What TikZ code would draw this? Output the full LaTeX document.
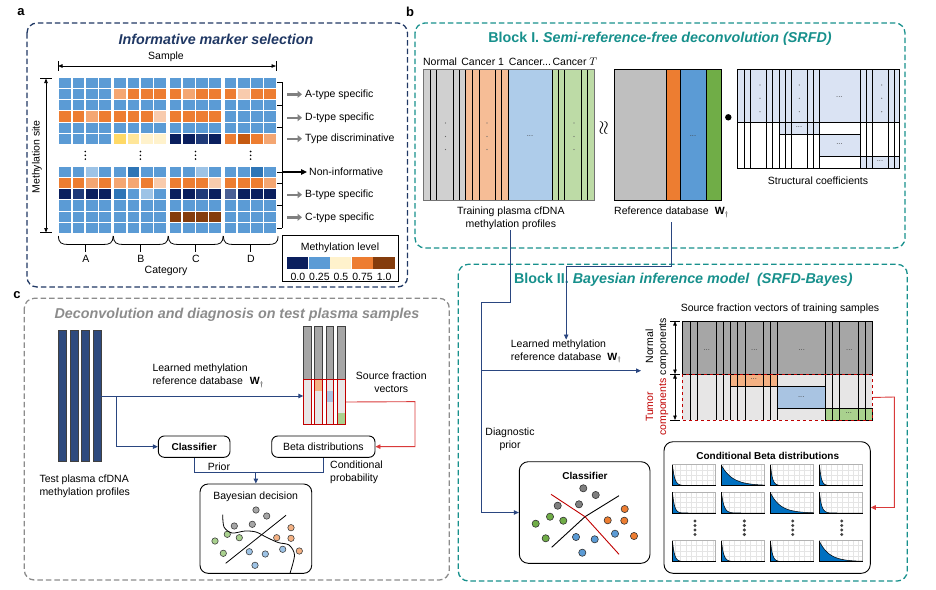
\documentclass[tikz,border=0pt]{standalone}
\usepackage{fontspec}
\setmainfont{Liberation Sans}
\usepackage{amsmath}
\usepackage{graphicx}
\usepackage{xcolor}
\usetikzlibrary{arrows.meta,positioning}

\definecolor{navyA}{HTML}{203864}
\definecolor{tealB}{HTML}{17908C}
\definecolor{grayC}{HTML}{8C8C8C}
\definecolor{linkc}{HTML}{2A4680}
\definecolor{redL}{HTML}{C00000}
\definecolor{redk}{HTML}{D93A3A}
\definecolor{hb}{HTML}{5B9BD5}
\definecolor{hl}{HTML}{9DC3E6}
\definecolor{hd}{HTML}{2E75B6}
\definecolor{hn}{HTML}{0A1F5E}
\definecolor{hm}{HTML}{1F3A78}
\definecolor{hs}{HTML}{4A5F94}
\definecolor{ho}{HTML}{ED7D31}
\definecolor{hp}{HTML}{F4A672}
\definecolor{hq}{HTML}{F8CBAD}
\definecolor{hy}{HTML}{FFD966}
\definecolor{hw}{HTML}{FFE699}
\definecolor{hc}{HTML}{FFF2CC}
\definecolor{hk}{HTML}{C55A11}
\definecolor{hr}{HTML}{843C0C}
\definecolor{trgray}{HTML}{D0D0D0}
\definecolor{trorange}{HTML}{F6BD96}
\definecolor{trblue}{HTML}{AECCEA}
\definecolor{trgreen}{HTML}{BDDBA6}
\definecolor{rfgray}{HTML}{BFBFBF}
\definecolor{rfgreen}{HTML}{70AD47}
\definecolor{scblue}{HTML}{DAE3F3}
\definecolor{sfdark}{HTML}{A6A6A6}
\definecolor{sflight}{HTML}{E7E6E6}
\definecolor{sforange}{HTML}{F4B183}
\definecolor{sfblue}{HTML}{A9C4E2}
\definecolor{sfgreen}{HTML}{A9D18E}
\definecolor{barnavy}{HTML}{2E4A7E}
\definecolor{betablue}{HTML}{0070C0}
\definecolor{dgray}{HTML}{7F7F7F}
\definecolor{dgreen}{HTML}{70AD47}
\definecolor{dblue}{HTML}{5B9BD5}
\definecolor{lgray}{HTML}{A6A6A6}
\definecolor{lgreen}{HTML}{A9D18E}
\definecolor{lorange}{HTML}{F4B183}
\definecolor{lblue}{HTML}{9DC3E6}

\tikzset{
	lbl/.style={font=\fontsize{10.5}{13}\selectfont, inner sep=0pt},
	ttl/.style={font=\fontsize{14.3}{17}\selectfont\bfseries\itshape, inner sep=0pt},
	plbl/.style={font=\fontsize{13}{13}\selectfont\bfseries, inner sep=0pt},
	panel/.style={dash pattern=on 5.5pt off 3pt, line width=1.3pt, rounded corners=10pt},
	rbox/.style={draw, rounded corners=6pt, line width=0.9pt, inner sep=0pt},
	dd/.style={font=\fontsize{7.5}{7.5}\selectfont, inner sep=0pt, text=black!75},
	garrow/.style={draw=black!50, line width=2.4pt, -{Triangle[length=4.5pt,width=7pt]}},
	linkar/.style={draw=linkc, line width=0.9pt, -{Triangle[length=5pt,width=4.5pt]}},
	redlink/.style={draw=redk, line width=0.9pt, -{Triangle[length=5pt,width=4.5pt]}},
	dblarrow/.style={line width=0.7pt, {Triangle[length=4.5pt,width=3.5pt]}-{Triangle[length=4.5pt,width=3.5pt]}},
}

\begin{document}
\begin{tikzpicture}[x=1pt,y=-1pt]
	\useasboundingbox (0,0) rectangle (936,589);

	\node[plbl] (pa) at (21,12) {a};
	\draw[panel, navyA] (27,23) rectangle (407.5,287);
	\node[ttl, navyA] (ttla) at (216,39) {Informative marker selection};
	\node[lbl] (sample) at (166,56.5) {Sample};
	\draw[dblarrow] (58,66) -- (276,66);
	\draw[line width=0.7pt] (58,61) -- (58,71) (276,61) -- (276,71);
	\node[lbl, rotate=90] (msite) at (37,157) {Methylation site};
	\draw[dblarrow] (46,78.5) -- (46,232.5);
	\draw[line width=0.7pt] (40,78.5) -- (52,78.5) (40,232.5) -- (52,232.5);
	\foreach \row [count=\r from 0] in {
		{hb,hb,hb,hb,hb,hb,hb,hb,hb,hb,hb,hb,hb,hb,hb,hb},
		{hb,hb,hb,hb,hp,ho,ho,ho,ho,hp,ho,ho,ho,hq,ho,ho},
		{hb,hb,hb,hb,hb,hb,hb,hb,hb,hb,hb,hb,hb,hb,hb,hb},
		{ho,ho,hp,ho,ho,ho,ho,hq,ho,ho,ho,ho,hb,hb,hb,hb},
		{hb,hb,hb,hb,hb,hb,hb,hb,hb,hb,hb,hb,hb,hb,hb,hb},
		{hb,hb,hb,hb,hy,hw,hc,hc,hn,hn,hm,hn,ho,hk,ho,hp},
		{hb,hb,hl,hb,hb,hd,hb,hb,hb,hb,hl,hb,hb,hb,hd,hb},
		{ho,ho,hp,ho,hp,hp,ho,hq,ho,ho,ho,hq,ho,ho,ho,hp},
		{hn,hm,hn,hn,hd,hb,hl,hb,hn,hn,hm,hn,hs,hn,hn,hn},
		{hb,hb,hb,hb,hb,hb,hb,hb,hb,hb,hb,hb,hb,hb,hb,hb},
		{hb,hb,hb,hb,hb,hb,hb,hb,hr,hr,hr,hr,hb,hb,hb,hb},
		{hb,hb,hb,hb,hb,hb,hb,hb,hb,hb,hb,hb,hb,hb,hb,hb}} {
		\foreach \cc [count=\j from 0] in \row {
			\pgfmathsetmacro\xx{59.3+int(\j/4)*55.1+mod(\j,4)*13.23}
			\pgfmathsetmacro\yy{77.5+\r*11.3+(\r>5)*21.2}
			\fill[\cc] (\xx,\yy) rectangle ++(11.8,10.3);
		}
	}
	\foreach \g in {0,...,3} {
		\foreach \yy in {151.5,155.3,159.1}
			\fill (85.3+\g*55.1,\yy) circle (0.9);
	}
	\foreach \g/\lv in {0/A,1/B,2/C,3/D} {
		\pgfmathsetmacro\xa{58.5+\g*55}
		\draw[line width=0.8pt] (\xa,236) .. controls (\xa,243) and (\xa+3,244.5) .. (\xa+10,244.5) -- (\xa+44.5,244.5) .. controls (\xa+51.5,244.5) and (\xa+54.5,243) .. (\xa+54.5,236);
		\draw[line width=0.8pt] (\xa+27.3,244.5) -- (\xa+27.3,252);
		\node[lbl] (cat\lv) at (\xa+27.3,259) {\lv};
	}
	\node[lbl] (categ) at (166,271) {Category};
	\draw[line width=0.8pt] (282,82.3) -- (282,228.3);
	\foreach \yy in {82.3,105,127.3,172,183.3,205.3,228.3}
		\draw[line width=0.8pt] (277,\yy) -- (282,\yy);
	\node[lbl, anchor=west] (atype) at (305,94.3) {A-type specific};
	\node[lbl, anchor=west] (dtype) at (305,117.7) {D-type specific};
	\node[lbl, anchor=west] (tdisc) at (305,138.7) {Type discriminative};
	\node[lbl, anchor=west] (noninf) at (309,172) {Non-informative};
	\node[lbl, anchor=west] (btype) at (305,194.7) {B-type specific};
	\node[lbl, anchor=west] (ctype) at (305,217.3) {C-type specific};
	\foreach \n in {atype,dtype,tdisc,btype,ctype}
		\draw[garrow] ([xshift=-18pt]\n.west) -- ([xshift=-3pt]\n.west);
	\draw[line width=1.1pt, -{Triangle[length=6pt,width=5.5pt]}] (282,172) -- ([xshift=-2pt]noninf.west);
	\draw[line width=0.8pt] (282,235) rectangle (398,281);
	\node[lbl] (mlevel) at (340,247.5) {Methylation level};
	\foreach \cc/\lv [count=\i from 0] in {hn/0.0,hb/0.25,hc/0.5,ho/0.75,hr/1.0} {
		\fill[\cc] (287+\i*21.6,257) rectangle ++(21.2,12);
		\node[lbl] (lv\i) at (297.8+\i*21.6,276.5) {\lv};
	}

	\node[plbl] (pb) at (410,12) {b};
	\draw[panel, tealB] (415,23) rectangle (905,248);
	\node[ttl, tealB] (ttlb) at (660,39) {\upshape Block I. \itshape Semi-reference-free deconvolution (SRFD)};
	\node[lbl] (hnorm) at (440,62) {Normal};
	\node[lbl] (hcan1) at (482.7,62) {Cancer 1};
	\node[lbl] (hcanx) at (530,62) {Cancer...};
	\node[lbl] (hcant) at (575,62) {Cancer $T$};
	\fill[trgray] (423.5,69) rectangle (465.7,200);
	\fill[trorange] (465.7,69) rectangle (508,200);
	\fill[trblue] (508,69) rectangle (552,200);
	\fill[trgreen] (552,69) rectangle (594,200);
	\foreach \xx in {430.3,436.7,453,459.3,465.7,472.3,479,495,501.3,508,552,558.7,564.7,581.3,587.7}
		\draw[line width=0.8pt] (\xx,69) -- (\xx,200);
	\draw[black!55, line width=1pt] (423.5,69) rectangle (594,200);
	\foreach \xx in {445.5,487,574} {
		\foreach \yy in {123,136.5,149.5}
			\fill[black!60] (\xx,\yy) circle (0.6);
	}
	\node[dd] (trdots) at (530,136) {...};
	\node[rotate=90, inner sep=0pt] (approx) at (604.3,127.7) {\scalebox{1.9}{$\approx$}};
	\fill[rfgray] (614.5,69) rectangle (666,200);
	\fill[ho] (666,69) rectangle (680,200);
	\fill[hb] (680,69) rectangle (706,200);
	\fill[rfgreen] (706,69) rectangle (721,200);
	\draw[line width=0.9pt] (614.5,69) rectangle (721,200) (666,69) -- (666,200) (680,69) -- (680,200) (706,69) -- (706,200);
	\node[dd] (rfdots) at (693,136) {...};
	\fill (728.3,117.3) circle (3.2);
	\fill[scblue] (737,69) rectangle (899,122.3);
	\fill[scblue] (779,122.3) rectangle (819.3,134);
	\fill[scblue] (819.3,134) rectangle (860,156);
	\fill[scblue] (860,156) rectangle (899,168.3);
	\foreach \xx in {744,750,766.5,772.5,779,785,791,807,813,819.3,860,866,872,888,894}
		\draw[line width=0.8pt] (\xx,69) -- (\xx,168.3);
	\draw[line width=0.8pt] (737,122.3) -- (899,122.3) (779,122.3) rectangle (819.3,134) (819.3,134) rectangle (860,156) (860,156) rectangle (899,168.3);
	\draw[line width=0.9pt] (737,69) rectangle (899,168.3);
	\foreach \xx in {760,799.3,881.7} {
		\foreach \yy in {85,98.3,111.7}
			\fill[black!60] (\xx,\yy) circle (0.6);
	}
	\foreach \xx/\yy [count=\i] in {839.3/97.5,799/127.5,839.5/144.5,880/161.5}
		\node[dd] (scd\i) at (\xx,\yy) {...};
	\node[lbl] (scoef) at (818,181) {Structural coefficients};
	\node[lbl, align=center] (trainlbl) at (510.8,218.7) {Training plasma cfDNA\\methylation profiles};
	\node[lbl, anchor=west] (reflbl) at (614,212.5) {Reference database\hspace{6pt}$\mathbf{W}_{\dagger}$};
	\coordinate (refout) at (671,222);

	\draw[panel, tealB] (458.3,264.3) rectangle (907.3,581);
	\node[ttl, tealB] (ttlb2) at (683.3,279.3) {\upshape Block II. \itshape Bayesian inference model\ \ (SRFD-Bayes)};
	\node[lbl] (sfvlbl) at (780,308.7) {Source fraction vectors of training samples};
	\fill[sfdark] (682.3,321) rectangle (872.3,374);
	\fill[sflight] (682.3,374) rectangle (872.3,420);
	\fill[sforange] (730,374) rectangle (777.3,386.7);
	\fill[sfblue] (777.3,386.7) rectangle (825,408.3);
	\fill[sfgreen] (825,408.3) rectangle (872.3,420);
	\foreach \xx in {690,697.3,716,723.3,730,737.3,745,763.3,770.7,777.3,825,832.3,839.3,858.3,865.7}
		\draw[line width=0.8pt] (\xx,321) -- (\xx,420);
	\draw[line width=0.8pt] (730,374) rectangle (777.3,386.7) (777.3,386.7) rectangle (825,408.3) (825,408.3) rectangle (872.3,420);
	\draw[line width=0.9pt] (682.3,321) rectangle (872.3,374);
	\node[draw=redL, dashed, line width=0.9pt, minimum width=190pt, minimum height=46pt, inner sep=0pt, anchor=north west] (tumor) at (682.3,374) {};
	\foreach \xx/\yy [count=\i] in {706.7/350,754.3/350,801.7/350,849.3/350,753.7/379.5,801.2/397,848.7/413.5}
		\node[dd] (sfd\i) at (\xx,\yy) {...};
	\draw[dblarrow] (675,321) -- (675,374);
	\draw[dblarrow] (675,374) -- (675,420);
	\draw[line width=0.7pt] (670,321) -- (680,321) (670,374) -- (680,374) (670,420) -- (680,420);
	\node[lbl, rotate=90, align=center] (normc) at (657,346.5) {Normal\\components};
	\node[lbl, rotate=90, align=center, text=redL] (tumc) at (657,407) {Tumor\\components};
	\node[lbl, align=left, anchor=north west] (learnb) at (510.7,339.5) {Learned methylation\\reference database\hspace{6pt}$\mathbf{W}_{\dagger}$};
	\node[lbl, align=center] (diagp) at (510,439) {Diagnostic\\prior};
	\node[rbox, rounded corners=9pt, minimum width=130.7pt, minimum height=101.6pt] (clsb) at (584.65,512.5) {};
	\node[lbl, font=\fontsize{10}{12}\selectfont\bfseries] (clsbt) at (585,475.7) {Classifier};
	\foreach \xx/\yy/\cc in {583.3/488.3/dgray,595.7/495/dgray,557.7/505.7/dgray,579/504.3/dgray,
		550/516.7/dgreen,563.3/520.7/dgreen,535.7/523.7/dgreen,545.7/538.3/dgreen,
		624.7/509/ho,607.7/520.3/ho,624.3/520.7/ho,634/536/ho,
		576/537/dblue,594.7/539.3/dblue,615/533.7/dblue,582.3/552.7/dblue}
		\draw[fill=\cc, draw=black!80, line width=0.6pt] (\xx,\yy) circle (3.6);
	\draw[line width=0.9pt] (551.7,547.3) -- (585,516.7) -- (619,495.7);
	\draw[redL, line width=0.9pt] (551,494.3) -- (585,516.7) -- (619,554.3);
	\node[rbox, rounded corners=9pt, minimum width=206.3pt, minimum height=131.6pt] (betab) at (767.15,507.5) {};
	\node[lbl, font=\fontsize{10}{12}\selectfont\bfseries] (betabt) at (767.7,455.7) {Conditional Beta distributions};
	\foreach \k [count=\i from 0] in {0.45,0.09,0.5,0.55,0.5,0.4,0.1,0.45,0.5,0.45,0.5,0.1} {
		\pgfmathsetmacro\plx{672.5+mod(\i,4)*49}
		\pgfmathsetmacro\ply{464.5+int(\i/4)*27.5+(\i>7)*21}
		\draw[black!10, line width=0.3pt, step=5.4pt] (\plx,\ply) grid ++(43,21);
		\draw[black!30, line width=0.3pt] (\plx,\ply) rectangle ++(43,21);
		\fill[betablue] (\plx,\ply+21) -- plot[domain=0:43, samples=50] ({\plx+\x},{\ply+21-20*exp(-\k*\x)}) -- cycle;
		\draw[line width=0.5pt] plot[domain=0:43, samples=50] ({\plx+\x},{\ply+21-20*exp(-\k*\x)});
		\draw[line width=0.9pt] (\plx,\ply) -- (\plx,\ply+21) -- (\plx+43,\ply+21);
	}
	\foreach \xx in {695,744.3,792.7,841.7} {
		\foreach \yy in {521,525.5,530,534.5}
			\fill[black!75] (\xx,\yy) circle (1.7);
	}
	\coordinate (sfin) at (641,370.7);
	\draw[linkar] (trainlbl.south) |- (481,302) |- (clsb.west);
	\draw[linkar] (481,370.7) -- (sfin);
	\draw[linkar] (refout) -- (671,266.7) -| (learnb.north);
	\draw[redlink] (tumor.east) -- (894.3,397) |- (betab.east);

	\node[plbl] (pc) at (17,295) {c};
	\draw[panel, grayC] (24.3,298.3) rectangle (449.3,580);
	\node[ttl, text=grayC] (ttlc) at (237,314.3) {Deconvolution and diagnosis on test plasma samples};
	\foreach \i in {0,...,3}
		\draw[fill=barnavy, draw=black!75, line width=0.7pt] (58.5+\i*11.5,330.7) rectangle ++(8,130.3);
	\node[lbl, align=left, anchor=west] (testlbl) at (39.3,486.3) {Test plasma cfDNA\\methylation profiles};
	\node[lbl, align=left, anchor=west] (learnc) at (152.3,375.7) {Learned methylation\\reference database\hspace{7pt}$\mathbf{W}_{\dagger}$};
	\foreach \i in {0,...,3} {
		\draw[fill=sfdark, draw=black!75, line width=0.7pt] (303.3+\i*11.3,326) rectangle ++(7.7,53);
		\fill[sflight] (303.3+\i*11.3,379) rectangle ++(7.7,45.3);
	}
	\fill[sforange] (314.6,379) rectangle ++(7.7,11.7);
	\fill[sfblue] (325.9,390.7) rectangle ++(7.7,11.6);
	\fill[sfgreen] (337.2,412.7) rectangle ++(7.7,11.6);
	\foreach \i in {0,...,3}
		\draw[redL, line width=0.7pt] (303.3+\i*11.3,379) rectangle ++(7.7,45.3);
	\node[draw=redL, line width=0.7pt, minimum width=42pt, minimum height=45.3pt, inner sep=0pt, anchor=north west] (sfc) at (303.3,379) {};
	\node[lbl, align=center] (sfvc) at (391.3,382) {Source fraction\\vectors};
	\node[rbox, minimum width=71.7pt, minimum height=21.3pt, font=\fontsize{10}{12}\selectfont\bfseries] (clsc) at (194.15,446.65) {Classifier};
	\node[rbox, minimum width=103.3pt, minimum height=21.3pt, font=\fontsize{10.5}{12}\selectfont] (betac) at (323.35,446.65) {Beta distributions};
	\coordinate (barout) at (100.7,396);
	\draw[linkar] (barout) -- (barout -| sfc.west);
	\draw[linkar] (116.3,396) |- (clsc.west);
	\draw[redlink] (sfc.east) -- (415,401.65) |- (betac.east);
	\draw[draw=linkc, line width=0.9pt] (clsc.south) -- ++(0,15) -| (betac.south);
	\node[rbox, rounded corners=8pt, minimum width=111.7pt, minimum height=89.3pt] (decc) at (255.85,528.65) {};
	\coordinate (mergec) at (255.85,472.3);
	\draw[linkar] (mergec) -- (decc.north);
	\node[lbl] (priorc) at (219,466.5) {Prior};
	\node[lbl, align=left, anchor=west] (condc) at (330,472.7) {Conditional\\probability};
	\node[lbl] (bayest) at (255.7,496.7) {Bayesian decision};
	\foreach \xx/\yy/\cc in {256/510/lgray,266.7/516/lgray,234.3/526/lgray,252.3/524.3/lgray,
		227.3/534.3/lgreen,239.3/537.7/lgreen,215/541/lgreen,223.3/553.3/lgreen,
		291/527.7/lorange,276.7/537.7/lorange,291/538.3/lorange,299.3/551/lorange,
		282.7/549.3/lblue,249.3/551.7/lblue,265.3/554/lblue,255/565.3/lblue}
		\draw[fill=\cc, draw=black!75, line width=0.6pt] (\xx,\yy) circle (3.2);
	\draw[line width=0.8pt] (225.7,563.3) -- (286,515.3);
	\draw[line width=0.8pt] plot[smooth] coordinates {(222.7,514.5) (224,527) (232,533) (245,531) (256,532) (266,537) (278,542.5) (289,545) (294.5,555) (290,573.3)};
\end{tikzpicture}
\end{document}
